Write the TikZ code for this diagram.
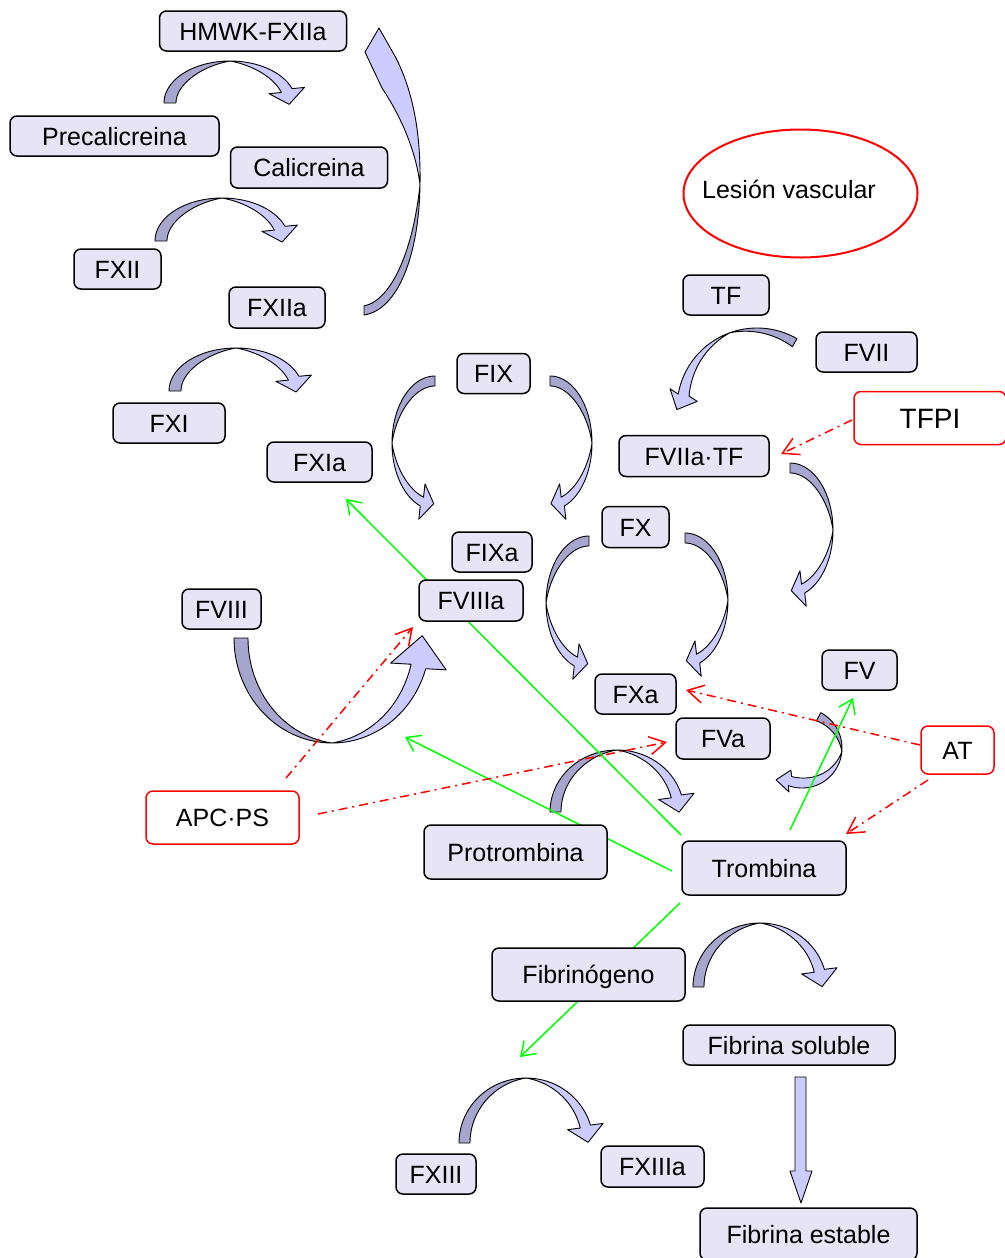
\documentclass[tikz,border=0pt]{standalone}
\usepackage{fontspec}
\setmainfont{Liberation Sans}
\usetikzlibrary{arrows.meta,shapes.geometric}
\definecolor{boxfill}{RGB}{230,228,245}
\definecolor{arrlight}{RGB}{204,204,255}
\definecolor{arrdark}{RGB}{166,166,207}
\definecolor{grn}{RGB}{0,255,0}
\definecolor{rd}{RGB}{255,0,0}
% head parameters: half width, length, direction (pixel frame, 0=right, 90=down)
\newcommand\crvhead[3]{\def\crvhw{#1}\def\crvhl{#2}\def\crvang{#3}}
% curved ribbon arrow: cx cy rx ry t_tail t_twist t_end Wdark Wlight
\newcommand\crv[9]{%
 \pgfmathsetmacro\crvw{(#9)*abs(sin((#7)-(#6)))}%
 \pgfmathsetmacro\crvrx{(#3)-(\crvw)/2}%
 \pgfmathsetmacro\crvry{(#4)-(\crvw)/2}%
 \pgfmathsetmacro\crvex{(#1)+(\crvrx)*cos(#7)}%
 \pgfmathsetmacro\crvey{(#2)-(\crvry)*sin(#7)}%
 \pgfmathsetmacro\crvux{cos(\crvang)}%
 \pgfmathsetmacro\crvuy{sin(\crvang)}%
 \pgfmathsetmacro\crvs{(0-(\crvuy)*cos(#7)-(\crvux)*sin(#7))>0?1:-1}%
 \path[ribbon,fill=arrdark] plot[samples=40,domain=#5:#6] ({(#1)+(#3)*cos(\x)},{(#2)-(#4)*sin(\x)})
   -- plot[samples=40,domain=#6:#5] ({(#1)+((#3)-(#8)*abs(sin(\x-(#6))))*cos(\x)},{(#2)-((#4)-(#8)*abs(sin(\x-(#6))))*sin(\x)}) -- cycle;
 \path[ribbon,fill=arrlight] plot[samples=40,domain=#6:#7] ({(#1)+(#3)*cos(\x)},{(#2)-(#4)*sin(\x)})
   -- ({(\crvex)-(\crvs)*(\crvhw)*(\crvuy)},{(\crvey)+(\crvs)*(\crvhw)*(\crvux)})
   -- ({(\crvex)+(\crvhl)*(\crvux)},{(\crvey)+(\crvhl)*(\crvuy)})
   -- ({(\crvex)+(\crvs)*(\crvhw)*(\crvuy)},{(\crvey)-(\crvs)*(\crvhw)*(\crvux)})
   -- plot[samples=40,domain=#7:#6] ({(#1)+((#3)-(#9)*abs(sin(\x-(#6))))*cos(\x)},{(#2)-((#4)-(#9)*abs(sin(\x-(#6))))*sin(\x)}) -- cycle;
}
\begin{document}
\begin{tikzpicture}[x=1pt,y=-1pt,
  ribbon/.style={draw=black,line width=0.9pt,line join=round},
  box/.style={draw=black,line width=1.5pt,rounded corners=7pt,fill=boxfill,inner sep=0pt,
     text height=18pt,text depth=0pt,font=\fontsize{25}{30}\selectfont,anchor=center},
  redbox/.style={box,draw=rd,fill=white},
  gline/.style={draw=grn,line width=1.5pt,-{Straight Barb[length=13pt,width=18pt,line width=1.5pt]}},
  rline/.style={draw=rd,line width=1.5pt,dash pattern=on 9pt off 5pt on 2pt off 5pt,
     -{Straight Barb[length=16pt,width=18pt,line width=1.5pt]}}]
\useasboundingbox (0,0) rectangle (1004,1258);
\fill[white] (0,0) rectangle (1004,1258);

% ---- curved ribbon arrows ----
\crvhead{18}{14}{80}
\crv{230}{103}{66}{42}{180}{90}{20}{12}{12}
\crv{222}{241}{67}{43}{180}{90}{20}{12}{12}
\crv{236}{391}{67}{43}{180}{90}{20}{12}{12}
\crvhead{18}{16}{80}
\crv{617}{812}{67}{62}{180}{90}{16}{11}{11}
\crv{760}{987}{67}{64}{180}{90}{16}{11}{11}
\crv{526}{1143}{67}{65}{180}{90}{16}{11}{11}
\crvhead{18}{12}{10}
\crv{435}{443}{43}{67}{90}{180}{250}{10}{10}
\crv{589}{603}{43}{67}{90}{180}{250}{10}{10}
\crvhead{18}{12}{170}
\crv{550}{443}{42}{67}{90}{0}{-70}{10}{10}
\crv{685}{600}{43}{67}{90}{0}{-70}{10}{10}
\crv{790}{530}{43}{67}{90}{0}{-70}{10}{10}
\crvhead{15}{16}{115}
\crv{757}{408}{80}{80}{60}{110}{170}{12}{12.7}
\crvhead{28}{31}{-83}
\crv{332}{638}{98}{105}{180}{270}{343}{14}{16}
\crvhead{11}{14}{185}
\crv{802}{748}{40}{40}{62}{-5}{-110}{10}{10}
% return arrow FXIIa -> HMWK-FXIIa
\path[ribbon,fill=arrdark] (364,315) .. controls (398,310) and (419,255) .. (420,185)
   .. controls (413,250) and (392,300) .. (364,306) -- cycle;
\path[ribbon,fill=arrlight] (420,185) .. controls (421,130) and (412,90) .. (396,58)
   -- (379,28) -- (365,52) -- (382,88) .. controls (400,115) and (416,150) .. (420,185) -- cycle;
% straight arrow Fibrina soluble -> Fibrina estable
\path[ribbon,fill=arrlight] (795,1077) -- (806,1077) -- (806,1171) -- (812,1171) -- (801,1203)
   -- (790,1171) -- (795,1171) -- cycle;

% ---- connector end points ----
\coordinate (g1s) at (681,835); \coordinate (g1e) at (346,499);
\coordinate (g2s) at (672,871); \coordinate (g2e) at (405,737);
\coordinate (g3s) at (790,830); \coordinate (g3e) at (853,698);
\coordinate (g4s) at (680,903); \coordinate (g4e) at (520,1057);
\coordinate (r1s) at (852,420); \coordinate (r1e) at (781,454);
\coordinate (r2s) at (920,745); \coordinate (r2e) at (686,690);
\coordinate (r3s) at (928,780); \coordinate (r3e) at (846,834);
\coordinate (r4s) at (286,778); \coordinate (r4e) at (413,627);
\coordinate (r5s) at (318,814); \coordinate (r5e) at (667,742);
\draw[gline] (g1s) -- (g1e);
\draw[gline] (g2s) -- (g2e);
\draw[gline] (g3s) -- (g3e);
\draw[gline] (g4s) -- (g4e);
\draw[rline] (r1s) -- (r1e);
\draw[rline] (r2s) -- (r2e);
\draw[rline] (r3s) -- (r3e);
\draw[rline] (r4s) -- (r4e);
\draw[rline] (r5s) -- (r5e);

% ---- nodes ----
\node[draw=rd,line width=2pt,ellipse,minimum width=234pt,minimum height=128pt,inner sep=0pt] (lesion) at (800.5,193.5) {};
\node[font=\fontsize{25}{30}\selectfont,text height=18pt,text depth=0pt,inner sep=0pt] (lesiontxt) at (789,189) {Lesión vascular};
\node[box,minimum width=187pt,minimum height=40pt] (hmwk) at (253,31) {HMWK-FXIIa};
\node[box,minimum width=209pt,minimum height=40pt] (precal) at (114.5,136) {Precalicreina};
\node[box,minimum width=157pt,minimum height=41pt] (cal) at (309,167.5) {Calicreina};
\node[box,minimum width=87pt,minimum height=40pt] (fxii) at (117.5,269) {FXII};
\node[box,minimum width=96pt,minimum height=41pt] (fxiia) at (277,307.5) {FXIIa};
\node[box,minimum width=112pt,minimum height=40pt] (fxi) at (169,423) {FXI};
\node[box,minimum width=105pt,minimum height=40pt] (fxia) at (319.5,462) {FXIa};
\node[box,minimum width=73pt,minimum height=40pt] (fix) at (493.5,373.5) {FIX};
\node[box,minimum width=80pt,minimum height=40pt] (fixa) at (492,552) {FIXa};
\node[box,minimum width=104pt,minimum height=41pt] (fviiia) at (471,600.5) {FVIIIa};
\node[box,minimum width=79pt,minimum height=40pt] (fviii) at (221.5,609) {FVIII};
\node[box,minimum width=67pt,minimum height=41pt] (fx) at (635.5,527) {FX};
\node[box,minimum width=81pt,minimum height=40pt] (fxa) at (635.5,694) {FXa};
\node[box,minimum width=94pt,minimum height=41pt] (fva) at (723,738.5) {FVa};
\node[box,minimum width=75pt,minimum height=40pt] (fv) at (859.5,670) {FV};
\node[redbox,minimum width=73pt,minimum height=48pt] (antit) at (957.5,750) {AT};
\node[box,minimum width=86pt,minimum height=40pt] (tf) at (726,295) {TF};
\node[box,minimum width=101pt,minimum height=40pt] (fvii) at (866.5,352) {FVII};
\node[redbox,minimum width=152pt,minimum height=53pt,font=\fontsize{28}{32}\selectfont,text height=20pt] (tfpi) at (930,418) {TFPI};
\node[box,minimum width=150pt,minimum height=41pt] (fviiatf) at (694,456) {FVIIa·TF};
\node[redbox,minimum width=153pt,minimum height=53pt] (apc) at (222.5,817.5) {APC·PS};
\node[box,minimum width=183pt,minimum height=54pt] (protr) at (515.5,852) {Protrombina};
\node[box,minimum width=164pt,minimum height=54pt] (trom) at (764,868) {Trombina};
\node[box,minimum width=193pt,minimum height=53pt] (fibg) at (588.5,974.5) {Fibrinógeno};
\node[box,minimum width=212pt,minimum height=40pt] (fibs) at (789,1045) {Fibrina soluble};
\node[box,minimum width=80pt,minimum height=40pt] (fxiii) at (436,1174) {FXIII};
\node[box,minimum width=103pt,minimum height=41pt] (fxiiia) at (652.5,1166.5) {FXIIIa};
\node[box,minimum width=217pt,minimum height=52pt] (fibe) at (808.5,1234) {Fibrina estable};
\end{tikzpicture}
\end{document}
